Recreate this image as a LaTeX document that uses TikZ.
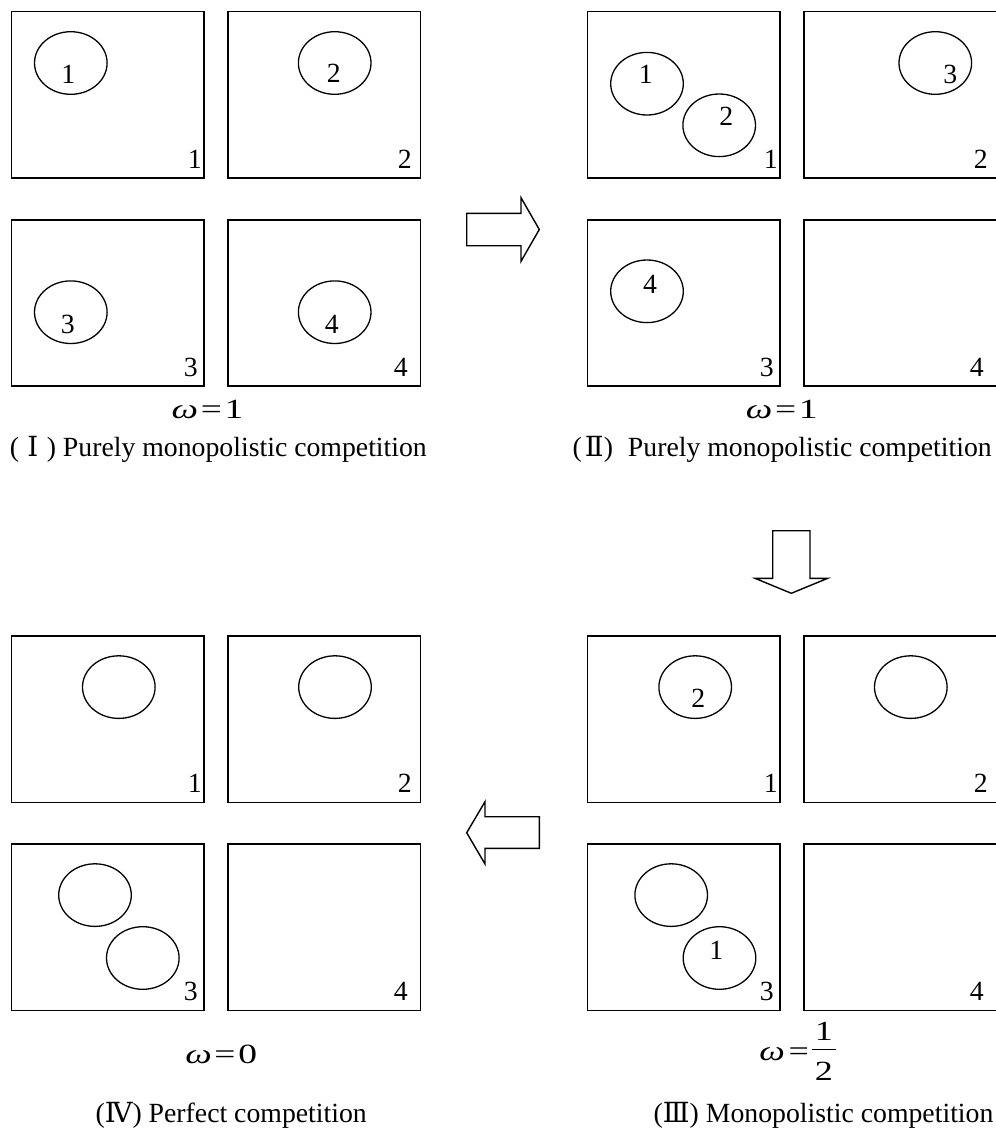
\documentclass[tikz,border=0pt]{standalone}
\usepackage{fontspec}
\usepackage{graphicx}
\setmainfont{Liberation Serif}
\newfontfamily\romfont{DejaVu Serif}
\usetikzlibrary{shapes.geometric,calc}
\newcommand\fs{\fontsize{27.75bp}{32bp}\selectfont}
\newcommand\halffrac{{\setlength\arrayrulewidth{1bp}\renewcommand\arraystretch{0}\begin{tabular}{@{\hspace{2.5bp}}c@{\hspace{2.5bp}}}\rule[-8.3bp]{0pt}{27bp}1\\\hline\rule[-5bp]{0pt}{36bp}2\end{tabular}}}
\tikzset{
  box/.style={draw, line width=1.6bp, minimum width=192.6bp, minimum height=166.4bp, inner sep=0pt, anchor=north west},
  firm/.style={draw, ellipse, line width=1.3bp, minimum width=72.6bp, minimum height=62.6bp, inner sep=0pt},
  num/.style={inner sep=0pt, anchor=base, font=\fs},
  eqn/.style={inner sep=0pt, anchor=base, font=\fs},
  captxt/.style={inner sep=0pt, anchor=base east, font=\fs},
  blockarrow/.style={draw, line width=1.4bp, line join=miter},
}
\newcommand\cornerlbl[3]{\node[num] (#1n) at ($(#1.south east)+(#3,-10.5)$) {#2};}
\begin{document}
\begin{tikzpicture}[x=1bp,y=-1bp]
\useasboundingbox (0,0) rectangle (996,1131);
% ---------- Panel I ----------
\node[box] (I1) at (10.7,10.7) {};
\node[box] (I2) at (227,10.7) {};
\node[box] (I3) at (10.7,219) {};
\node[box] (I4) at (227,219) {};
\cornerlbl{I1}{1}{-10}
\cornerlbl{I2}{2}{-16.5}
\cornerlbl{I3}{3}{-14}
\cornerlbl{I4}{4}{-20.5}
\node[firm] (I1e) at (70.8,63) {};
\node[firm] (I2e) at (334.7,63) {};
\node[firm] (I3e) at (70.8,312.2) {};
\node[firm] (I4e) at (334.7,312.2) {};
\node[num] (I1el) at (68.3,83.3) {1};
\node[num] (I2el) at (333.7,82.7) {2};
\node[num] (I3el) at (67.8,333.3) {3};
\node[num] (I4el) at (331.7,333.3) {4};
\node[eqn] (wI) at (207.5,418.3) {\scalebox{1.35}[1]{{\itshape ω}\hspace{2bp}=\hspace{2bp}1}};
\node[captxt] (cI) at (427,456.3) {(\makebox[27.75bp]{\romfont Ⅰ}) Purely monopolistic competition};
% ---------- Panel II ----------
\node[box] (II1) at (586.7,10.7) {};
\node[box] (II2) at (803,10.7) {};
\node[box] (II3) at (586.7,219) {};
\node[box] (II4) at (803,219) {};
\cornerlbl{II1}{1}{-10}
\cornerlbl{II2}{2}{-16.5}
\cornerlbl{II3}{3}{-14}
\cornerlbl{II4}{4}{-20.5}
\node[firm] (II1a) at (647,83.7) {};
\node[firm] (II1b) at (719.2,125.3) {};
\node[firm] (II2e) at (935.3,63) {};
\node[firm] (II3e) at (647,291.3) {};
\node[num] (II1al) at (645.8,83.3) {1};
\node[num] (II1bl) at (726.3,125) {2};
\node[num] (II2el) at (950.3,83.3) {3};
\node[num] (II3el) at (650,293.3) {4};
\node[eqn] (wII) at (781.7,418.3) {\scalebox{1.35}[1]{{\itshape ω}\hspace{2bp}=\hspace{2bp}1}};
\node[captxt] (cII) at (992,456.3) {(\hspace{3bp}{\romfont Ⅱ})\hspace{8bp} Purely monopolistic competition};
% ---------- Panel III ----------
\node[box] (III1) at (586.7,635.3) {};
\node[box] (III2) at (803,635.3) {};
\node[box] (III3) at (586.7,843.3) {};
\node[box] (III4) at (803,843.3) {};
\cornerlbl{III1}{1}{-10}
\cornerlbl{III2}{2}{-16.5}
\cornerlbl{III3}{3}{-14}
\cornerlbl{III4}{4}{-20.5}
\node[firm] (III1e) at (695.2,687.1) {};
\node[firm] (III2e) at (910.8,687.1) {};
\node[firm] (III3a) at (671.2,895.1) {};
\node[firm] (III3b) at (719.5,958) {};
\node[num] (III1el) at (698.3,707.5) {2};
\node[num] (III3bl) at (716.3,959.3) {1};
\node[eqn] (wIII) at (797.7,1060) {\scalebox{1.3}[1]{{\itshape ω}\hspace{3bp}=\hspace{2bp}\halffrac}};
\node[captxt] (cIII) at (993.6,1122) {({\romfont Ⅲ}) Monopolistic competition};
% ---------- Panel IV ----------
\node[box] (IV1) at (10.7,635.3) {};
\node[box] (IV2) at (227,635.3) {};
\node[box] (IV3) at (10.7,843.3) {};
\node[box] (IV4) at (227,843.3) {};
\cornerlbl{IV1}{1}{-10}
\cornerlbl{IV2}{2}{-16.5}
\cornerlbl{IV3}{3}{-14}
\cornerlbl{IV4}{4}{-20.5}
\node[firm] (IV1e) at (118.8,687.1) {};
\node[firm] (IV2e) at (335,687.1) {};
\node[firm] (IV3a) at (95,895.1) {};
\node[firm] (IV3b) at (142.8,958) {};
\node[eqn] (wIV) at (221.2,1063.3) {\scalebox{1.35}[1]{{\itshape ω}\hspace{2bp}=\hspace{2bp}0}};
\node[captxt] (cIV) at (367,1122) {({\romfont Ⅳ}) Perfect competition};
% ---------- block arrows ----------
\draw[blockarrow] (466.7,213.3) -- (521,213.3) -- (521,197.7) -- (539.3,229.5) -- (521,261.3) -- (521,245.7) -- (466.7,245.7) -- cycle;
\draw[blockarrow] (772.7,530.7) -- (810,530.7) -- (810,578.3) -- (827.7,578.3) -- (791.3,593.3) -- (755,578.3) -- (772.7,578.3) -- cycle;
\draw[blockarrow] (539.3,816.7) -- (485,816.7) -- (485,801.7) -- (466.7,832.7) -- (485,864) -- (485,848.3) -- (539.3,848.3) -- cycle;
\end{tikzpicture}
\end{document}
